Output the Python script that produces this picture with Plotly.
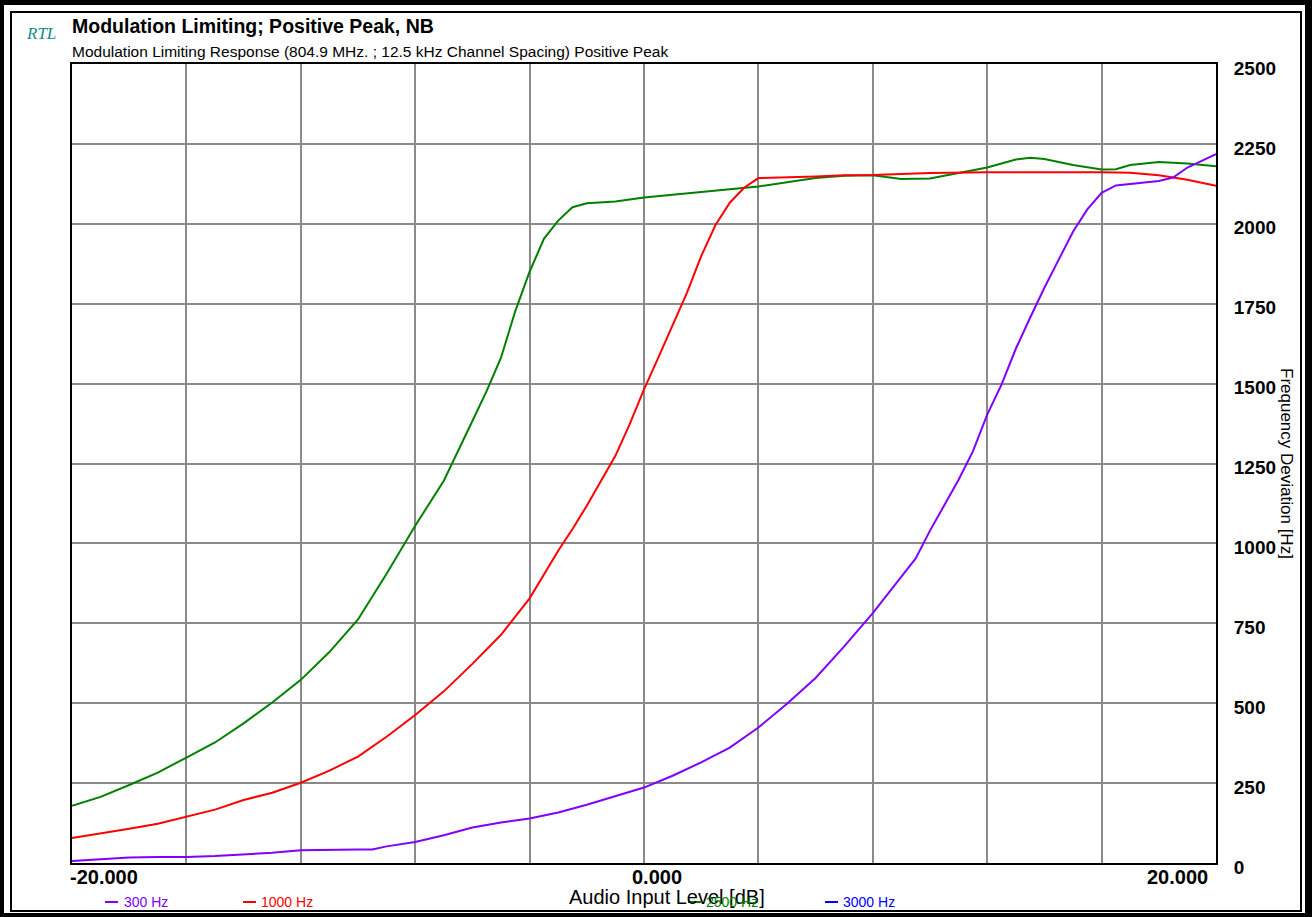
import plotly.graph_objects as go

# ---------------- data ----------------
x_300 = [-20, -19, -18, -17, -16, -15, -14, -13, -12, -11, -10, -9.5, -9, -8, -7, -6, -5, -4, -3, -2, -1, 0,
         1, 2, 3, 4, 5, 6, 7, 8, 9, 9.5, 10, 10.5, 11, 11.5, 12, 12.5, 13, 13.5, 14, 14.5, 15, 15.5, 16,
         16.5, 17, 18, 18.5, 19, 20]
y_300 = [6, 12, 17, 19, 19, 22, 27, 32, 40, 42, 42, 42, 52, 66, 87, 111, 127, 139, 158, 182, 208, 236,
         273, 315, 361, 424, 498, 579, 678, 782, 896, 953, 1040, 1121, 1199, 1288, 1403, 1497, 1609, 1706, 1800, 1888, 1975, 2045, 2097,
         2120, 2124, 2134, 2145, 2176, 2218]

x_1000 = [-20, -19, -18, -17, -16, -15, -14, -13, -12, -11, -10, -9, -8, -7, -6, -5, -4, -3.5, -3, -2.5, -2, -1.5,
          -1, -0.5, 0, 0.5, 1, 1.5, 2, 2.5, 3, 3.5, 4, 5, 6, 7, 8, 10, 12, 16, 17, 18, 19, 20]
y_1000 = [78, 92, 107, 123, 146, 167, 197, 220, 251, 289, 333, 395, 463, 537, 623, 714, 828, 904, 977, 1045, 1118, 1196,
          1274, 1373, 1482, 1581, 1685, 1784, 1899, 1996, 2066, 2113, 2143, 2145, 2148, 2152, 2153, 2159, 2161, 2161, 2160, 2152, 2138, 2119]

x_2500 = [-20, -19, -18, -17, -16, -15, -14, -13, -12, -11, -10, -9, -8, -7, -6, -5.5, -5, -4.5, -4, -3.5, -3, -2.5,
          -2, -1.5, -1, 0, 1, 2, 3, 4, 5, 6, 7, 8, 9, 10, 11, 12, 13, 13.5, 14, 15, 16, 16.5, 17, 18, 19, 20]
y_2500 = [179, 207, 244, 283, 330, 377, 437, 502, 573, 660, 762, 905, 1055, 1196, 1383, 1477, 1581, 1727, 1850, 1953, 2010, 2052,
          2064, 2066, 2070, 2082, 2090, 2100, 2108, 2117, 2129, 2143, 2150, 2152, 2140, 2142, 2159, 2176, 2201, 2207, 2203, 2184, 2170, 2171, 2184, 2193, 2189, 2180]

legend_names = ["300 Hz", "1000 Hz", "2500 Hz", "3000 Hz"]
legend_colors = ["#8000ff", "#ff0000", "#008000", "#0000ff"]

x_ticks = [-20, 0, 20]
x_ticktext = ["-20.000", "0.000", "20.000"]

title = "Modulation Limiting; Positive Peak, NB"
subtitle = "Modulation Limiting Response (804.9 MHz. ; 12.5 kHz Channel Spacing) Positive Peak"

# ---------------- layout helpers ----------------
W, H = 1312, 917
L, R, T, B = 72, 1216, 64, 863


def xp(px):
    return (px - L) / (R - L)


def yp(py):
    return (B - py) / (B - T)


fig = go.Figure()
for xs, ys, col in [(x_2500, y_2500, legend_colors[2]),
                    (x_1000, y_1000, legend_colors[1]),
                    (x_300, y_300, legend_colors[0])]:
    fig.add_trace(go.Scatter(x=xs, y=ys, mode="lines",
                             line=dict(color=col, width=2), showlegend=False))

grid = "#8a8a8a"
fig.update_layout(
    width=W, height=H,
    margin=dict(l=L, r=W - R, t=T, b=H - B),
    paper_bgcolor="white", plot_bgcolor="white",
    font=dict(family="Arial, Liberation Sans, sans-serif", color="black"),
    showlegend=False,
    xaxis=dict(range=[-20, 20], dtick=4, tick0=-20, showgrid=True, gridcolor=grid, gridwidth=2,
               showline=True, linecolor="black", linewidth=2, mirror=True,
               showticklabels=False, zeroline=False, ticks=""),
    yaxis=dict(range=[0, 2500], dtick=250, tick0=0, side="right", showgrid=True, gridcolor=grid,
               gridwidth=2, showline=True, linecolor="black", linewidth=2, mirror=True,
               zeroline=False, ticks="", ticklabelstandoff=12, ticklabelshift=4,
               tickprefix="<b>", ticksuffix="</b>",
               tickfont=dict(size=19, color="black", family="Arial, Liberation Sans, sans-serif")),
)

ann = []
# x tick labels
for v, t in zip(x_ticks, x_ticktext):
    anchor = "left" if v == x_ticks[0] else ("right" if v == x_ticks[-1] else "center")
    shift = -4 if anchor == "left" else (-6 if anchor == "right" else 13)
    ann.append(dict(x=v, xref="x", y=yp(877), yref="paper", text="<b>" + t + "</b>", showarrow=False,
                    xanchor=anchor, yanchor="middle", xshift=shift,
                    font=dict(size=20, color="black")))
# axis titles
ann.append(dict(x=xp(567), xref="paper", y=yp(897), yref="paper", text="Audio Input Level [dB]",
                showarrow=False, xanchor="left", yanchor="middle", font=dict(size=20, color="black")))
ann.append(dict(x=xp(1287), xref="paper", y=yp(463), yref="paper", text="Frequency Deviation [Hz]",
                showarrow=False, xanchor="center", yanchor="middle", textangle=90,
                font=dict(size=17, color="black")))
# titles
ann.append(dict(x=xp(70), xref="paper", y=yp(26), yref="paper", text="<b>" + title + "</b>",
                showarrow=False, xanchor="left", yanchor="middle", font=dict(size=19.5, color="black")))
ann.append(dict(x=xp(70), xref="paper", y=yp(51), yref="paper", text=subtitle,
                showarrow=False, xanchor="left", yanchor="middle", font=dict(size=15.5, color="black")))
ann.append(dict(x=xp(24), xref="paper", y=yp(33), yref="paper", text="<i>RTL</i>",
                showarrow=False, xanchor="left", yanchor="middle",
                font=dict(size=17, color="#138a8a", family="Liberation Serif, Times New Roman, serif")))

# custom legend
legend_line_x = [105, 243, 688, 825]
legend_text_x = [122, 259, 704, 841]
shapes = []
for name, col, lx, tx in zip(legend_names, legend_colors, legend_line_x, legend_text_x):
    shapes.append(dict(type="line", xref="paper", yref="paper", x0=xp(lx), x1=xp(lx + 13),
                       y0=yp(902), y1=yp(902), line=dict(color=col, width=2)))
    ann.append(dict(x=xp(tx), xref="paper", y=yp(902), yref="paper", text=name, showarrow=False,
                    xanchor="left", yanchor="middle", font=dict(size=14, color=col)))

# frame
for x0, y0, x1, y1 in [(0, 0, 4, H), (0, 0, W, 5), (1305, 0, W, H), (0, 913, W, H)]:
    shapes.append(dict(type="rect", xref="paper", yref="paper", x0=xp(x0), x1=xp(x1),
                       y0=yp(y0), y1=yp(y1), fillcolor="black", line=dict(width=0)))
shapes.append(dict(type="rect", xref="paper", yref="paper", x0=xp(11), x1=xp(1301),
                   y0=yp(12), y1=yp(911), line=dict(color="black", width=2), fillcolor="rgba(0,0,0,0)"))

fig.update_layout(annotations=ann, shapes=shapes)
fig.write_html("out.html")
